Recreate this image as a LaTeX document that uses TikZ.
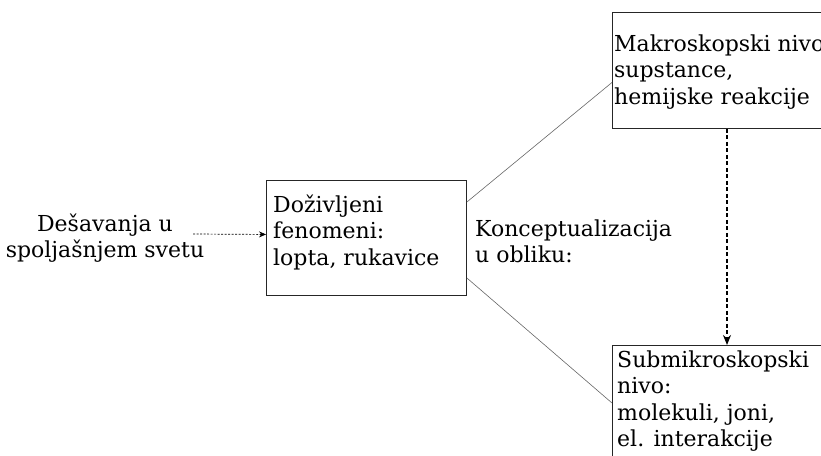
\documentclass[tikz,border=0pt]{standalone}
\usepackage{fontspec}
\setmainfont{DejaVu Serif}
\usetikzlibrary{arrows.meta,calc}
\begin{document}
\begin{tikzpicture}[x=1pt,y=-1pt,
  box/.style={draw=black!85, line width=0.9pt, inner sep=0pt, anchor=north west},
  txt/.style={inner sep=0pt, align=left, anchor=north west, font=\fontsize{22}{26.5}\selectfont},
  link/.style={draw=black!60, line width=0.6pt},
  flow/.style={draw=black, dashed}]
\useasboundingbox (0,0) rectangle (821,455);

% boxes
\node[box, minimum width=200pt, minimum height=115pt] (exp) at (266,180) {};
\node[box, minimum width=220pt, minimum height=116pt] (macro) at (612,12) {};
\node[box, minimum width=220pt, minimum height=130pt] (sub) at (612,345) {};

% texts
\node[txt, align=center, anchor=north] (world) at (105,212.5) {\strut Dešavanja u\\spoljašnjem svetu};
\node[txt] (expT) at (273,193.5) {\strut Doživljeni\\fenomeni:\\lopta, rukavice};
\node[txt] (macroT) at (614,32.5) {\strut Makroskopski nivo\\supstance,\\hemijske reakcije};
\node[txt] (subT) at (617,348.5) {\strut Submikroskopski\\nivo:\\molekuli, joni,\\el. interakcije};
\node[txt] (concept) at (475,217.5) {\strut Konceptualizacija\\u obliku:};

% connectors
\coordinate (src) at (193,234);
\draw[flow, line width=0.7pt, dash pattern=on 2pt off 1.5pt, -{Stealth[length=7pt,width=6pt]}]
  (src) -- ($(exp.west)+(0,-3.5)$);
\draw[link] ($(exp.north east)+(0,22)$) -- ($(macro.west)+(0,12)$);
\draw[link] ($(exp.north east)+(0,98)$) -- ($(sub.north west)+(0,58)$);
\draw[flow, line width=1.3pt, dash pattern=on 4pt off 2.5pt, -{Stealth[length=10pt,width=8pt]}]
  ($(macro.south west)+(115,0)$) -- ($(sub.north west)+(115,0)$);
\end{tikzpicture}
\end{document}
